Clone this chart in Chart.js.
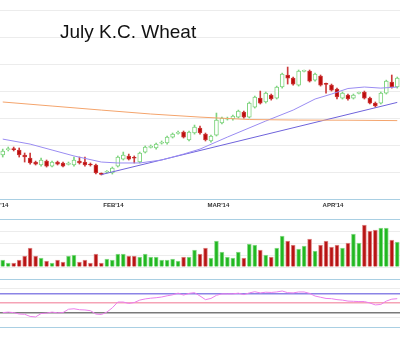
<!DOCTYPE html>
<html>
<head>
<meta charset="utf-8">
<script src="https://cdn.jsdelivr.net/npm/chart.js@4.4.1/dist/chart.umd.min.js"></script>
<style>
html, body { margin: 0; padding: 0; background: #fff; }
#wrap { position: relative; width: 400px; height: 341px; overflow: hidden; }
canvas { position: absolute; left: 0; }
#title { position: absolute; left: 60px; top: 22px; font: 19px "Liberation Sans", Arial, sans-serif; line-height: 19px; color: #111; white-space: nowrap; }
</style>
</head>
<body>
<div id="wrap">
  <canvas id="priceChart" width="400" height="215" style="top:0"></canvas>
  <canvas id="volChart" width="400" height="52" style="top:217px"></canvas>
  <canvas id="rsiChart" width="400" height="52" style="top:277px"></canvas>
  <div id="title">July K.C. Wheat</div>
</div>
<script>
// trading days shown (Jan 7 - Apr 22, 2014)
var dates = ['Jan 7','Jan 8','Jan 9','Jan 10','Jan 13','Jan 14','Jan 15','Jan 16','Jan 17','Jan 21','Jan 22','Jan 23','Jan 24','Jan 27','Jan 28','Jan 29','Jan 30','Jan 31',
  'Feb 3','Feb 4','Feb 5','Feb 6','Feb 7','Feb 10','Feb 11','Feb 12','Feb 13','Feb 14','Feb 18','Feb 19','Feb 20','Feb 21','Feb 24','Feb 25','Feb 26','Feb 27','Feb 28',
  'Mar 3','Mar 4','Mar 5','Mar 6','Mar 7','Mar 10','Mar 11','Mar 12','Mar 13','Mar 14','Mar 17','Mar 18','Mar 19','Mar 20','Mar 21','Mar 24','Mar 25','Mar 26','Mar 27','Mar 28','Mar 31',
  'Apr 1','Apr 2','Apr 3','Apr 4','Apr 7','Apr 8','Apr 9','Apr 10','Apr 11','Apr 14','Apr 15','Apr 16','Apr 17','Apr 21','Apr 22'];

var opens  = [6.526,6.566,6.570,6.563,6.526,6.504,6.474,6.452,6.481,6.444,6.474,6.467,6.457,6.452,6.481,6.474,6.459,6.452,
  6.387,6.398,6.393,6.444,6.496,6.519,6.506,6.474,6.548,6.583,6.578,6.613,6.615,6.659,6.687,6.696,6.637,6.689,6.726,
  6.681,6.630,6.674,6.763,6.791,6.793,6.807,6.844,6.807,6.881,6.948,6.919,6.970,6.948,7.030,7.119,7.096,7.044,7.146,7.148,7.081,
  7.111,7.054,7.044,7.015,6.948,6.970,6.948,6.983,6.993,6.948,6.911,6.911,6.985,7.067,7.030];
var highs  = [6.570,6.585,6.585,6.578,6.541,6.541,6.481,6.504,6.489,6.481,6.481,6.474,6.474,6.511,6.511,6.511,6.467,6.459,
  6.393,6.411,6.437,6.519,6.548,6.533,6.519,6.548,6.593,6.600,6.615,6.630,6.667,6.689,6.704,6.704,6.704,6.748,6.741,
  6.689,6.674,6.837,6.807,6.807,6.822,6.859,6.852,6.919,6.963,7.000,6.993,6.978,7.037,7.133,7.178,7.104,7.156,7.156,7.156,7.133,
  7.119,7.059,7.052,7.022,6.993,6.978,6.978,6.993,7.000,6.956,6.919,6.993,7.081,7.119,7.104];
var lows   = [6.511,6.556,6.556,6.511,6.474,6.459,6.452,6.444,6.437,6.437,6.452,6.437,6.452,6.444,6.459,6.444,6.444,6.385,
  6.378,6.393,6.385,6.437,6.489,6.489,6.467,6.467,6.541,6.578,6.570,6.607,6.607,6.652,6.681,6.652,6.630,6.681,6.681,
  6.630,6.622,6.667,6.756,6.785,6.785,6.800,6.800,6.800,6.874,6.904,6.911,6.933,6.941,7.022,7.052,7.044,7.037,7.141,7.067,7.074,
  7.037,6.985,7.000,6.941,6.941,6.933,6.941,6.978,6.941,6.904,6.881,6.904,6.978,7.022,7.022];
var closes = [6.556,6.570,6.566,6.526,6.511,6.467,6.459,6.489,6.444,6.474,6.459,6.444,6.461,6.489,6.467,6.452,6.452,6.393,
  6.383,6.402,6.430,6.511,6.526,6.496,6.502,6.541,6.585,6.587,6.607,6.617,6.659,6.681,6.691,6.659,6.696,6.733,6.689,
  6.637,6.667,6.785,6.800,6.795,6.815,6.852,6.807,6.911,6.956,6.911,6.985,6.941,7.030,7.126,7.096,7.052,7.148,7.150,7.074,7.126,
  7.044,7.050,7.007,6.956,6.985,6.941,6.970,6.987,6.948,6.911,6.889,6.985,7.074,7.030,7.096];

var volumes = [5800,3300,3300,5800,9200,15800,9200,7500,5000,3300,5800,4200,9200,10000,4200,5800,3300,10800,
  3300,6700,5800,10800,10800,9200,9200,8300,10800,8300,8300,5800,5800,6700,5000,8300,8300,14200,10800,
  15800,7500,21700,12500,8300,7500,12500,7500,19200,18300,14200,10000,8300,15800,25800,21700,18300,15000,17500,23300,13300,
  18300,21700,16700,18300,15800,20000,27500,20000,35000,30000,30800,32500,32500,22500,20800];

var rsi = [30,31,30,27,26.5,22,21,28,29,31,29.5,30,37,38,36,35.5,34,27,
  26,31,40,52,52,49,51,56,58.5,60,61,62.5,65,67,70.5,66.5,70,71.5,64.6,
  57,59.5,66,69,69,69,70.5,67.5,71,73.5,71,72.5,72,73,75,71.5,71,73,73,70,64.5,
  62,59.5,59,57,56,54,53.5,53,53,50,46,47,54,58,59];

// overlays: [day index, price]
var maFast  = [[0,6.644],[5,6.607],[9,6.563],[13,6.519],[18,6.474],[21,6.467],[25,6.467],[29,6.489],[33,6.533],[36,6.570],
  [41,6.659],[48,6.778],[53,6.859],[57,6.941],[60,6.978],[63,7.019],[66,7.030],[69,7.022],[72,7.030]];
var maSlow  = [[0,6.919],[9,6.889],[18,6.859],[27,6.830],[36,6.807],[45,6.789],[54,6.785],[63,6.784],[72,6.781]];
var trendLn = [[18,6.381],[72,6.916]];

var monthLabels = ["JAN'14", "FEB'14", "MAR'14", "APR'14"];
var monthStarts = [-3, 18, 37, 58];

var priceGrid = [6.2, 6.4, 6.6, 6.8, 7.0, 7.2, 7.4, 7.6];
var volGrid = [0, 10000, 20000, 30000, 40000];
var rsiLevels = [0, 20, 30, 50, 70, 80, 100];

var GREEN_LINE = '#7fd47f', RED_FILL = '#bd0b0b', RED_LINE = '#cc3a3a';
var up = opens.map(function (o, i) { return closes[i] >= o; });

var pts = function (arr) {
    return arr.map(function (p) { return { x: dates[p[0]], y: p[1] }; });
};

var monthLabelPlugin = {
    id: 'monthLabels',
    afterDraw: function (chart) {
        var xs = chart.scales.x, c = chart.ctx;
        c.save();
        c.font = 'bold 6px "Liberation Sans", Arial, sans-serif';
        c.fillStyle = '#333';
        monthLabels.forEach(function (t, k) {
            c.fillText(t, xs.getPixelForValue(monthStarts[k]) + 2, 207);
        });
        c.restore();
    }
};

var hiddenX = { display: false, offset: true };
var baseOpts = {
    responsive: false,
    animation: false,
    events: [],
    plugins: { legend: { display: false }, tooltip: { enabled: false } }
};

new Chart(document.getElementById('priceChart'), {
    type: 'bar',
    data: {
        labels: dates,
        datasets: [{
            type: 'line', data: pts(maSlow), borderColor: '#f4a46c', borderWidth: 1,
            pointRadius: 0, spanGaps: true, order: 0
        }, {
            type: 'line', data: pts(maFast), borderColor: '#9a8cf2', borderWidth: 1,
            pointRadius: 0, spanGaps: true, order: 0
        }, {
            type: 'line', data: pts(trendLn), borderColor: '#6f63db', borderWidth: 1,
            pointRadius: 0, spanGaps: true, order: 0
        }, {
            data: opens.map(function (o, i) { return [o, closes[i]]; }),
            backgroundColor: up.map(function (u) { return u ? '#ffffff' : RED_FILL; }),
            borderColor: up.map(function (u) { return u ? GREEN_LINE : RED_LINE; }),
            borderWidth: 1, borderSkipped: false, barThickness: 4, minBarLength: 1,
            grouped: false, order: 1
        }, {
            data: lows.map(function (l, i) { return [l, highs[i]]; }),
            backgroundColor: up.map(function (u) { return u ? GREEN_LINE : RED_LINE; }),
            borderWidth: 0, barThickness: 1, grouped: false, order: 2
        }]
    },
    options: Object.assign({}, baseOpts, {
        layout: { padding: { bottom: 16 } },
        scales: {
            x: hiddenX,
            y: {
                min: 6.2, max: 7.675,
                afterBuildTicks: function (s) { s.ticks = priceGrid.map(function (v) { return { value: v }; }); },
                ticks: { display: false },
                border: { display: false },
                grid: {
                    drawTicks: false,
                    color: function (c) { return c.tick.value === priceGrid[0] ? '#a9cfe3' : '#ececec'; }
                }
            }
        }
    }),
    plugins: [monthLabelPlugin]
});

new Chart(document.getElementById('volChart'), {
    type: 'bar',
    data: {
        labels: dates,
        datasets: [{
            data: volumes,
            backgroundColor: up.map(function (u) { return u ? '#22b822' : '#b81414'; }),
            borderColor: up.map(function (u) { return u ? '#8fdc8f' : '#e08a8a'; }),
            borderWidth: 1, borderSkipped: 'start', barThickness: 4
        }]
    },
    options: Object.assign({}, baseOpts, {
        layout: { padding: { top: 2, bottom: 2 } },
        scales: {
            x: hiddenX,
            y: {
                min: 0, max: 40000,
                afterBuildTicks: function (s) { s.ticks = volGrid.map(function (v) { return { value: v }; }); },
                ticks: { display: false },
                border: { display: false },
                grid: {
                    drawTicks: false,
                    color: function (c) { return c.tick.value === 40000 ? '#a9cfe3' : '#ececec'; }
                }
            }
        }
    })
});

var rsiLineColor = { 0: '#a9cfe3', 20: '#ececec', 30: '#7a7a7a', 50: '#f5a3b6', 70: '#8b84e6', 80: '#ececec', 100: '#a9cfe3' };
var rsiLineWidth = { 30: 1.5, 50: 1.5, 70: 1.5 };

new Chart(document.getElementById('rsiChart'), {
    type: 'line',
    data: {
        labels: dates,
        datasets: [{
            data: rsi, borderColor: '#ec7eec', borderWidth: 1, pointRadius: 0, tension: 0
        }]
    },
    options: Object.assign({}, baseOpts, {
        layout: { padding: { top: 2, bottom: 2 } },
        scales: {
            x: hiddenX,
            y: {
                min: 0, max: 100,
                afterBuildTicks: function (s) { s.ticks = rsiLevels.map(function (v) { return { value: v }; }); },
                ticks: { display: false },
                border: { display: false },
                grid: {
                    drawTicks: false,
                    color: function (c) { return rsiLineColor[c.tick.value]; },
                    lineWidth: function (c) { return rsiLineWidth[c.tick.value] || 1; }
                }
            }
        }
    })
});
</script>
</body>
</html>
